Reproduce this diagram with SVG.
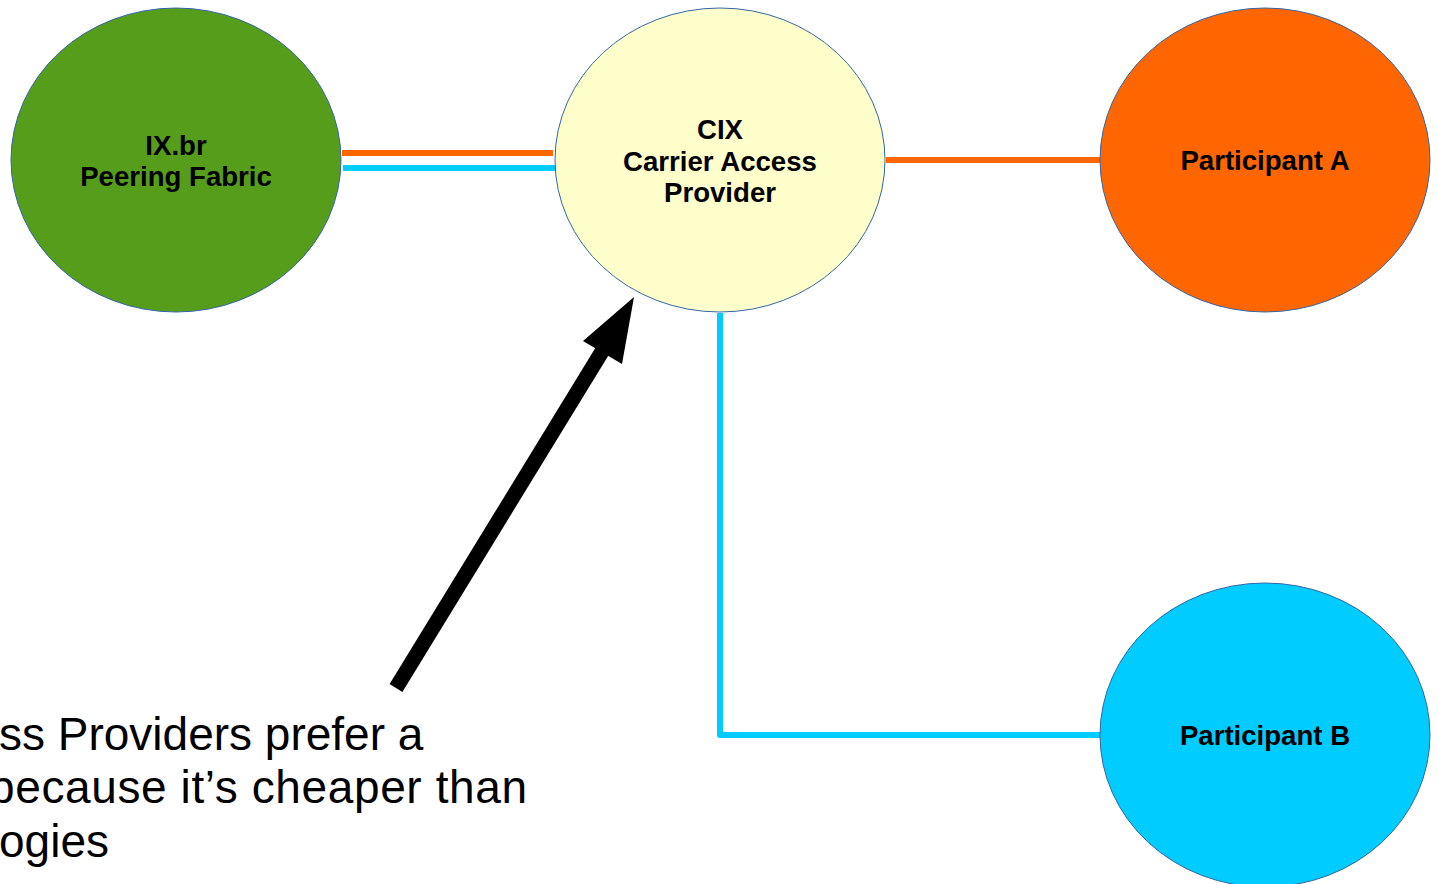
<svg xmlns="http://www.w3.org/2000/svg" width="1439" height="884" viewBox="0 0 1439 884">
<style>
.node{stroke:#3465a4;stroke-width:1}
.lbl{font-family:"Liberation Sans",Arial,sans-serif;font-weight:bold;font-size:27.6px;fill:#000;text-anchor:middle}
.big{font-family:"Liberation Sans",Arial,sans-serif;font-size:46px;fill:#000}
.or{stroke:#ff6600;stroke-width:6;fill:none}
.cy{stroke:#00ccff;stroke-width:6;fill:none}
</style>
<rect width="1439" height="884" fill="#fff"/>
<g id="connectors">
<line class="or" x1="342" y1="153" x2="553" y2="153"/>
<line class="cy" x1="343" y1="168" x2="556" y2="168"/>
<line class="or" x1="886" y1="160" x2="1100" y2="160"/>
<polyline class="cy" points="720,313 720,735 1100,735" stroke-linejoin="round"/>
<g id="arrow">
<line x1="396" y1="688" x2="606" y2="345" stroke="#000" stroke-width="15"/>
<polygon points="634,297 622,364 583,341" fill="#000"/>
</g>
</g>
<g id="ixbr">
<ellipse class="node" cx="176" cy="160" rx="165" ry="152" fill="#579d1c"/>
<text class="lbl" x="176" y="155">IX.br</text>
<text class="lbl" x="176" y="186">Peering Fabric</text>
</g>
<g id="cix">
<ellipse class="node" cx="720" cy="160" rx="165" ry="152" fill="#ffffcc"/>
<text class="lbl" x="720" y="139">CIX</text>
<text class="lbl" x="720" y="171">Carrier Access</text>
<text class="lbl" x="720" y="202">Provider</text>
</g>
<g id="participantA">
<ellipse class="node" cx="1265" cy="160" rx="165" ry="152" fill="#ff6600"/>
<text class="lbl" x="1265" y="170">Participant A</text>
</g>
<g id="participantB">
<ellipse class="node" cx="1265" cy="735" rx="165" ry="152" fill="#00ccff"/>
<text class="lbl" x="1265" y="745">Participant B</text>
</g>
<g id="note">
<text class="big" x="-1" y="750">ss Providers prefer a</text>
<text class="big" x="-11" y="803" textLength="538" lengthAdjust="spacing">because it’s cheaper than</text>
<text class="big" x="-1" y="857">ogies</text>
</g>
</svg>
